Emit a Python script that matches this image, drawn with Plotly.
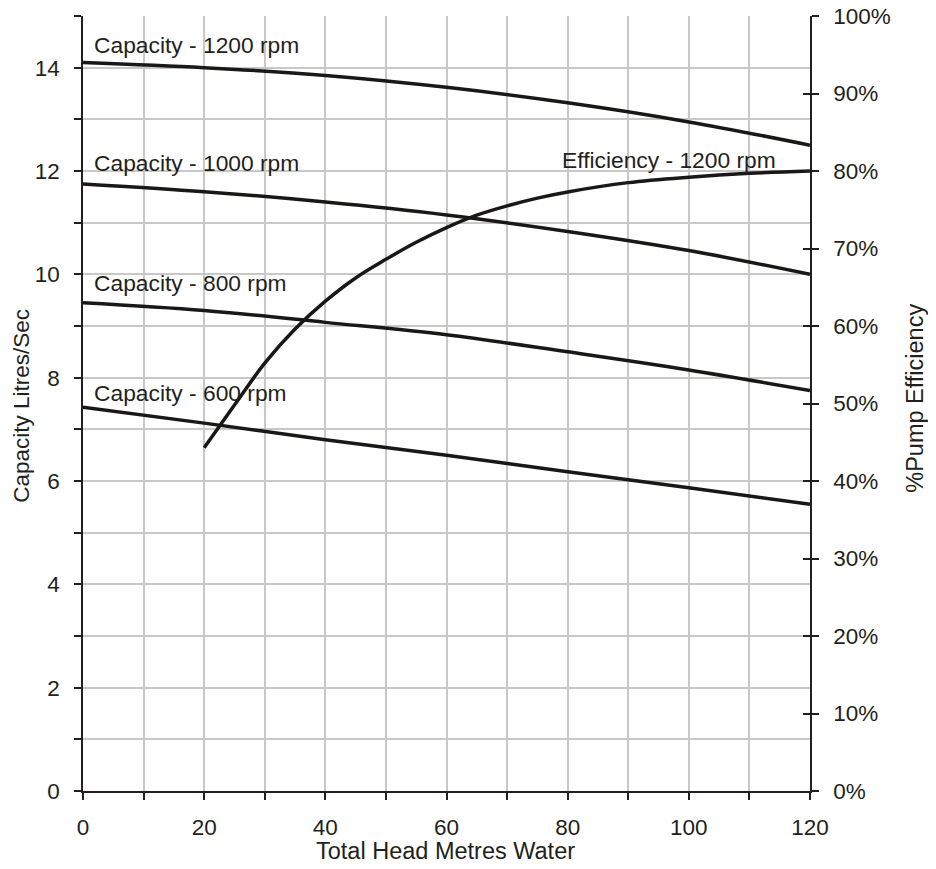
import plotly.graph_objects as go

# ---- data ----
head = [0, 20, 40, 60, 80, 100, 120]
cap_1200 = [14.10, 14.00, 13.85, 13.62, 13.32, 12.95, 12.50]
cap_1000 = [11.75, 11.60, 11.40, 11.15, 10.83, 10.46, 10.00]
cap_800 = [9.45, 9.30, 9.07, 8.83, 8.50, 8.15, 7.75]
cap_600 = [7.43, 7.12, 6.80, 6.50, 6.18, 5.87, 5.55]

eff_head = [20, 25, 30, 35, 40, 45, 50, 55, 60, 65, 70, 75, 80, 90, 100, 110, 120]
eff_1200 = [0.443, 0.498, 0.552, 0.596, 0.632, 0.662, 0.686, 0.708, 0.727, 0.743,
            0.755, 0.765, 0.773, 0.785, 0.792, 0.797, 0.800]

labels = ["Capacity - 1200 rpm", "Capacity - 1000 rpm", "Capacity - 800 rpm",
          "Capacity - 600 rpm", "Efficiency - 1200 rpm"]
x_title = "Total Head Metres Water"
y_title = "Capacity Litres/Sec"
y2_title = "%Pump Efficiency"

FONT = "Liberation Sans, Arial, sans-serif"
TXT = "#231f20"
LINE = "#1a1717"
GRID = "#c8c8c8"

fig = go.Figure()
for ys in [cap_1200, cap_1000, cap_800, cap_600]:
    fig.add_trace(go.Scatter(x=head, y=ys, mode="lines", line=dict(color=LINE, width=3.5, shape="spline"),
                             yaxis="y", showlegend=False, hoverinfo="skip"))
fig.add_trace(go.Scatter(x=eff_head, y=eff_1200, mode="lines",
                         line=dict(color=LINE, width=3.5, shape="spline"),
                         yaxis="y2", showlegend=False, hoverinfo="skip"))

ann_pos = [(1.5, 14.43, "left"), (1.5, 12.16, "left"), (1.5, 9.83, "left"),
           (1.5, 7.71, "left"), (114.7, 12.22, "right")]
for (ax_, ay_, anc), txt in zip(ann_pos, labels):
    fig.add_annotation(x=ax_, y=ay_, xref="x", yref="y", text=txt, showarrow=False,
                       xanchor=anc, yanchor="middle", font=dict(family=FONT, size=22.8, color=TXT))

# axis titles
fig.add_annotation(x=0.498, y=-0.077, xref="paper", yref="paper", text=x_title, showarrow=False,
                   xanchor="center", yanchor="middle", font=dict(family=FONT, size=23.5, color=TXT))
fig.add_annotation(x=-0.084, y=0.497, xref="paper", yref="paper", text=y_title, showarrow=False,
                   textangle=-90, xanchor="center", yanchor="middle",
                   font=dict(family=FONT, size=22.5, color=TXT))
fig.add_annotation(x=1.144, y=0.507, xref="paper", yref="paper", text=y2_title, showarrow=False,
                   textangle=-90, xanchor="center", yanchor="middle",
                   font=dict(family=FONT, size=23.5, color=TXT))

fig.update_layout(
    width=920, height=853,
    margin=dict(l=75, r=118, t=8, b=70, autoexpand=False),
    plot_bgcolor="white", paper_bgcolor="white",
    font=dict(family=FONT, size=22.5, color=TXT),
    xaxis=dict(range=[0, 120], dtick=20, tick0=0, ticks="outside", ticklen=7, tickwidth=1.5,
               tickcolor="#231f20", showline=True, linecolor="#231f20", linewidth=1.5,
               showgrid=True, gridcolor=GRID, gridwidth=2, automargin=False,
               ticklabeloverflow="allow",
               minor=dict(dtick=10, ticks="outside", ticklen=7, tickcolor="#231f20",
                          showgrid=True, gridcolor=GRID, gridwidth=2),
               zeroline=False, ticklabelstandoff=8),
    yaxis=dict(range=[0, 15], tickvals=[0, 2, 4, 6, 8, 10, 12, 14], ticks="outside", ticklen=7,
               tickwidth=1.5, tickcolor="#231f20", showline=True, linecolor="#231f20", linewidth=1.5,
               showgrid=True, gridcolor=GRID, gridwidth=2, automargin=False,
               ticklabeloverflow="allow",
               minor=dict(dtick=1, ticks="outside", ticklen=7, tickcolor="#231f20",
                          showgrid=True, gridcolor=GRID, gridwidth=2),
               zeroline=False, ticklabelstandoff=10),
    yaxis2=dict(range=[0, 1], dtick=0.1, tick0=0, tickformat=".0%", overlaying="y", side="right",
                ticks="outside", ticklen=7, tickwidth=1.5, tickcolor="#231f20", automargin=False,
                ticklabeloverflow="allow",
                showline=True, linecolor="#231f20", linewidth=1.5, showgrid=False, zeroline=False,
                ticklabelstandoff=10),
    yaxis3=dict(range=[0, 1], dtick=0.1, tick0=0, overlaying="y", side="right", automargin=False,
                ticks="inside", ticklen=7, tickwidth=1.5, tickcolor="#231f20",
                showticklabels=False, showline=False, showgrid=False, zeroline=False),
)
# placeholder trace to activate yaxis3 (crossing ticks on the right axis)
fig.add_trace(go.Scatter(x=[None], y=[None], yaxis="y3", showlegend=False, hoverinfo="skip"))

fig.write_html("out.html")
